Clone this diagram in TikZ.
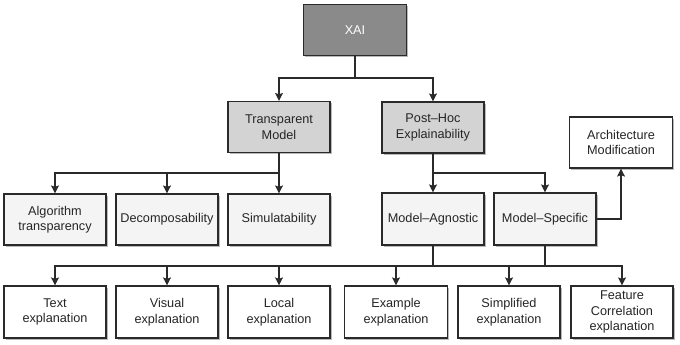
\documentclass[tikz,border=0pt]{standalone}
\usepackage{fontspec}
\setmainfont{Liberation Sans}
\usetikzlibrary{arrows.meta,shadows}
\definecolor{dk}{HTML}{8A8A8A}
\definecolor{md}{HTML}{D3D3D3}
\definecolor{lt}{HTML}{F4F4F4}
\definecolor{ln}{HTML}{2A2A2A}
\begin{document}
\begin{tikzpicture}[x=1pt,y=-1pt,
  box/.style={draw=ln,line width=1.2pt,minimum width=102pt,minimum height=51pt,align=center,
    font=\fontsize{12.7}{15.5}\selectfont,text=black!85,inner sep=1pt,
    drop shadow={shadow xshift=1.6pt,shadow yshift=-1.6pt,fill=black!45,opacity=0.6}},
  dkbox/.style={box,fill=dk,text=white},
  mdbox/.style={box,fill=md},
  ltbox/.style={box,fill=lt},
  whbox/.style={box,fill=white},
  conn/.style={draw=ln,line width=1.2pt},
  arr/.style={conn,-{Stealth[length=8pt,width=8pt,inset=1.5pt]}}]
\useasboundingbox (0,0) rectangle (680,345);
\node[dkbox,minimum width=103pt] (xai) at (355,30) {XAI};
\node[mdbox] (tm) at (279,127) {Transparent\\Model};
\node[mdbox] (ph) at (433,127.5) {Post--Hoc\\Explainability};
\node[ltbox] (alg) at (55,219.5) {Algorithm\\transparency};
\node[ltbox] (dec) at (167,219.5) {Decomposability};
\node[ltbox] (sim) at (279,219.5) {Simulatability};
\node[ltbox,minimum height=52pt] (ma) at (433,219) {Model--Agnostic};
\node[ltbox,minimum height=52pt] (ms) at (545,219) {Model--Specific};
\node[whbox,minimum width=103pt] (arch) at (621,142.5) {Architecture\\Modification};
\node[whbox,minimum height=52pt] (txt) at (55,312) {Text\\explanation};
\node[whbox,minimum height=52pt] (vis) at (167,312) {Visual\\explanation};
\node[whbox,minimum height=52pt] (loc) at (279,312) {Local\\explanation};
\node[whbox,minimum width=103pt,minimum height=52pt] (exa) at (396,312) {Example\\explanation};
\node[whbox,minimum height=52pt] (sim2) at (509,312) {Simplified\\explanation};
\node[whbox,minimum height=52pt] (fea) at (622,312) {Feature\\Correlation\\explanation};
\coordinate (j1) at (355,78);
\coordinate (j2) at (279,173);
\coordinate (j3) at (433,173);
\coordinate (j4) at (433,266);
\draw[conn] (xai.south) -- (j1);
\draw[arr] (j1) -| (tm.north);
\draw[arr] (j1) -| (ph.north);
\draw[conn] (tm.south) -- (j2);
\draw[arr] (j2) -| (alg.north);
\draw[arr] (dec.north |- j2) -- (dec.north);
\draw[arr] (j2) -- (sim.north);
\draw[conn] (ph.south) -- (j3);
\draw[arr] (j3) -- (ma.north);
\draw[arr] (j3) -| (ms.north);
\draw[arr] (ms.east) -| (arch.south);
\draw[conn] (ma.south) -- (j4);
\draw[conn] (ms.south) -- (ms.south |- j4);
\draw[arr] (j4) -| (txt.north);
\draw[arr] (vis.north |- j4) -- (vis.north);
\draw[arr] (loc.north |- j4) -- (loc.north);
\draw[arr] (exa.north |- j4) -- (exa.north);
\draw[arr] (sim2.north |- j4) -- (sim2.north);
\draw[arr] (j4) -| (fea.north);
\end{tikzpicture}
\end{document}
